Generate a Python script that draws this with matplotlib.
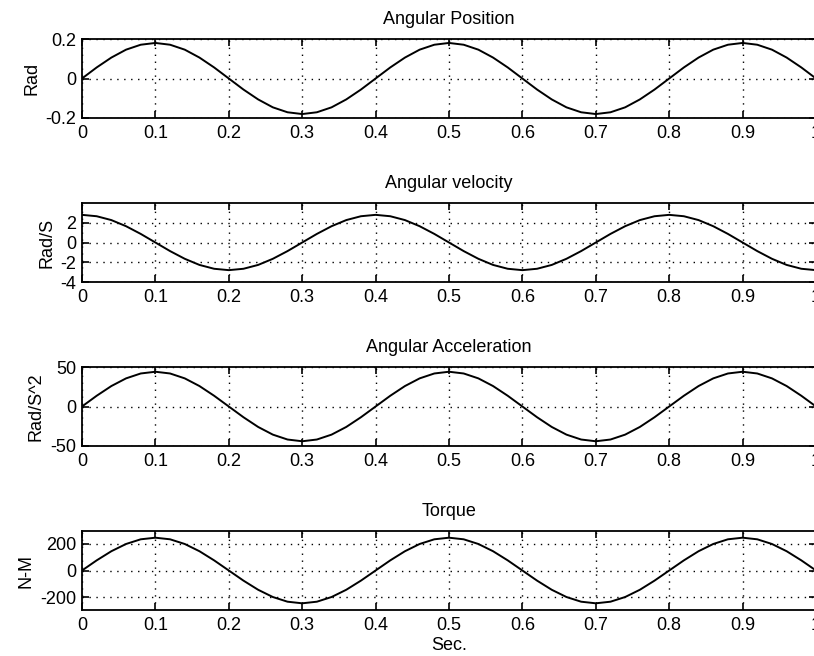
import matplotlib
matplotlib.use("Agg")
import matplotlib.pyplot as plt

plt.rcParams["font.family"] = ["Liberation Sans", "DejaVu Sans"]
plt.rcParams["font.size"] = 13

# time samples (s), 0.02 s apart
t = [0.00, 0.02, 0.04, 0.06, 0.08, 0.10, 0.12, 0.14, 0.16, 0.18,
     0.20, 0.22, 0.24, 0.26, 0.28, 0.30, 0.32, 0.34, 0.36, 0.38,
     0.40, 0.42, 0.44, 0.46, 0.48, 0.50, 0.52, 0.54, 0.56, 0.58,
     0.60, 0.62, 0.64, 0.66, 0.68, 0.70, 0.72, 0.74, 0.76, 0.78,
     0.80, 0.82, 0.84, 0.86, 0.88, 0.90, 0.92, 0.94, 0.96, 0.98,
     1.00]

# values
position = [0, 0.056, 0.106, 0.146, 0.171, 0.180, 0.171, 0.146, 0.106, 0.056,
            0, -0.056, -0.106, -0.146, -0.171, -0.180, -0.171, -0.146, -0.106, -0.056,
            0, 0.056, 0.106, 0.146, 0.171, 0.180, 0.171, 0.146, 0.106, 0.056,
            0, -0.056, -0.106, -0.146, -0.171, -0.180, -0.171, -0.146, -0.106, -0.056,
            0, 0.056, 0.106, 0.146, 0.171, 0.180, 0.171, 0.146, 0.106, 0.056,
            0]

velocity = [2.80, 2.66, 2.27, 1.65, 0.87, 0, -0.87, -1.65, -2.27, -2.66,
            -2.80, -2.66, -2.27, -1.65, -0.87, 0, 0.87, 1.65, 2.27, 2.66,
            2.80, 2.66, 2.27, 1.65, 0.87, 0, -0.87, -1.65, -2.27, -2.66,
            -2.80, -2.66, -2.27, -1.65, -0.87, 0, 0.87, 1.65, 2.27, 2.66,
            2.80, 2.66, 2.27, 1.65, 0.87, 0, -0.87, -1.65, -2.27, -2.66,
            -2.80]

acceleration = [0, 13.6, 25.9, 35.6, 41.8, 44.0, 41.8, 35.6, 25.9, 13.6,
                0, -13.6, -25.9, -35.6, -41.8, -44.0, -41.8, -35.6, -25.9, -13.6,
                0, 13.6, 25.9, 35.6, 41.8, 44.0, 41.8, 35.6, 25.9, 13.6,
                0, -13.6, -25.9, -35.6, -41.8, -44.0, -41.8, -35.6, -25.9, -13.6,
                0, 13.6, 25.9, 35.6, 41.8, 44.0, 41.8, 35.6, 25.9, 13.6,
                0]

torque = [0, 75.7, 144, 198, 233, 245, 233, 198, 144, 75.7,
          0, -75.7, -144, -198, -233, -245, -233, -198, -144, -75.7,
          0, 75.7, 144, 198, 233, 245, 233, 198, 144, 75.7,
          0, -75.7, -144, -198, -233, -245, -233, -198, -144, -75.7,
          0, 75.7, 144, 198, 233, 245, 233, 198, 144, 75.7,
          0]

x_ticks = [0, 0.1, 0.2, 0.3, 0.4, 0.5, 0.6, 0.7, 0.8, 0.9, 1.0]
x_labels = ["0", "0.1", "0.2", "0.3", "0.4", "0.5", "0.6", "0.7", "0.8", "0.9", "1"]

panels = [
    ("Angular Position", "Rad", position, (-0.2, 0.2), [-0.2, 0, 0.2], ["-0.2", "0", "0.2"]),
    ("Angular velocity", "Rad/S", velocity, (-4, 4), [-4, -2, 0, 2], ["-4", "-2", "0", "2"]),
    ("Angular Acceleration", "Rad/S^2", acceleration, (-50, 50), [-50, 0, 50], ["-50", "0", "50"]),
    ("Torque", "N-M", torque, (-295, 295), [-200, 0, 200], ["-200", "0", "200"]),
]

W, H = 814, 656
fig = plt.figure(figsize=(W / 100, H / 100), dpi=100)

left_px, right_px = 82, 816
tops_px = [39, 203, 367, 531]
height_px = 79

for i, (title, ylab, vals, ylim, yt, ytl) in enumerate(panels):
    top = tops_px[i]
    ax = fig.add_axes([left_px / W, (H - top - height_px) / H,
                       (right_px - left_px) / W, height_px / H])
    ax.plot(t, vals, color="black", lw=1.4)
    ax.set_xlim(0, 1.0)
    ax.set_ylim(*ylim)
    ax.set_xticks(x_ticks)
    ax.set_xticklabels(x_labels)
    ax.set_yticks(yt)
    ax.set_yticklabels(ytl)
    ax.grid(True, color="black", linestyle=(0, (1, 4)), lw=1.0)
    ax.tick_params(direction="in", top=True, right=True, length=5, width=1.2,
                   labelsize=13)
    ax.tick_params(axis="x", pad=5)
    ax.tick_params(axis="y", pad=4)
    for s in ax.spines.values():
        s.set_linewidth(1.3)
    ax.set_title(title, fontsize=13, pad=11)
    ax.set_ylabel(ylab, fontsize=13, labelpad=4)
    if i == 3:
        ax.set_xlabel("Sec.", fontsize=13, labelpad=2)

fig.savefig("out.png", dpi=100)
